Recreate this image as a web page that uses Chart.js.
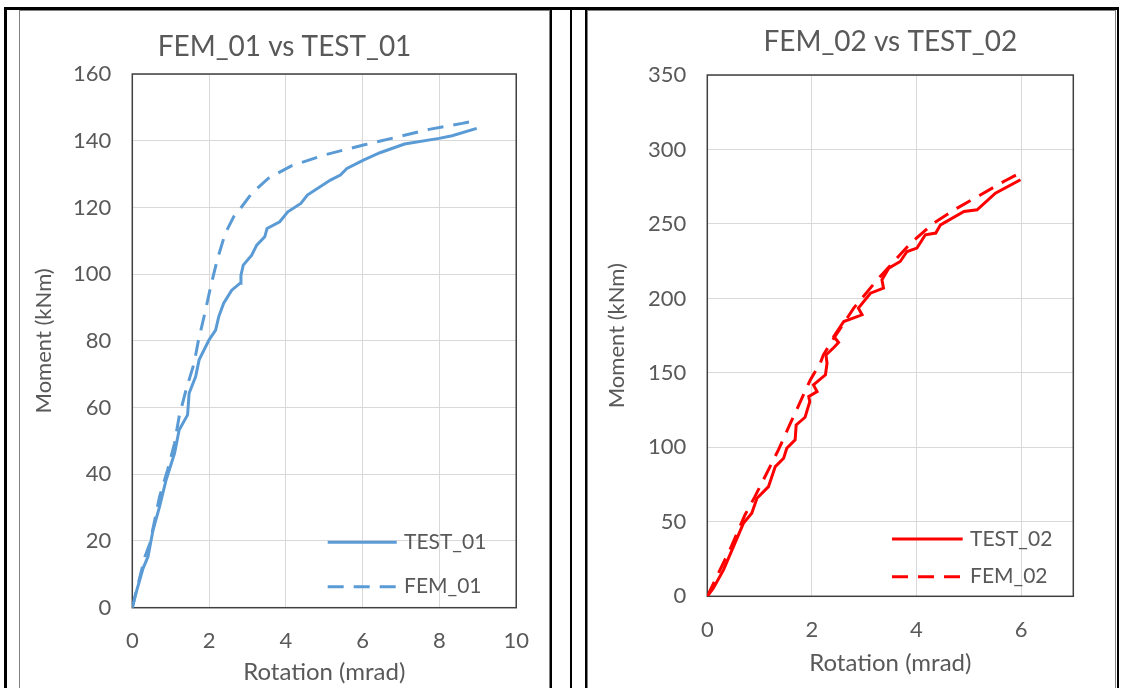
<!DOCTYPE html>
<html lang="en">
<head>
<meta charset="UTF-8">
<title>FEM vs TEST</title>
<style>
    body {
        margin: 0;
        background: #fff;
        width: 1132px;
        height: 688px;
        overflow: hidden;
        position: relative;
    }
    .rule { position: absolute; background: #000; }
    .frame { position: absolute; border: 1px solid #808080; border-bottom: none; }
    canvas { position: absolute; }
</style>
</head>
<body>
<!-- table lines round the two charts -->
<div class="rule" style="left:4px;top:7px;width:1115px;height:3px"></div>
<div class="rule" style="left:4px;top:7px;width:3px;height:681px"></div>
<div class="frame" style="left:19px;top:10px;width:529px;height:690px"></div>
<div class="rule" style="left:550px;top:7px;width:2px;height:681px"></div>
<div class="rule" style="left:570px;top:7px;width:2px;height:681px"></div>
<div class="rule" style="left:585px;top:7px;width:2px;height:681px"></div>
<div class="frame" style="left:587px;top:10px;width:527px;height:690px"></div>
<div class="rule" style="left:1117px;top:7px;width:2px;height:681px"></div>

<canvas id="chart1" width="529" height="677" style="left:20px;top:11px"></canvas>
<canvas id="chart2" width="527" height="677" style="left:588px;top:11px"></canvas>

<script src="https://cdn.jsdelivr.net/npm/chart.js"></script>
<script>
    // --- chart 1 data (rotation in mrad, moment in kNm) ---
    const test01Rot = [0, 0.07, 0.28, 0.41, 0.54, 0.71, 0.88, 1.10, 1.22, 1.44, 1.48, 1.65, 1.74, 2.00, 2.17, 2.25, 2.38, 2.59, 2.81, 2.83, 2.89, 3.11, 3.24, 3.45, 3.51, 3.84, 4.05, 4.39, 4.56, 5.16, 5.42, 5.59, 6.02, 6.45, 7.09, 7.99, 8.33, 8.97];
    const test01Mom = [0, 3.3, 11.8, 15.3, 23.3, 30.3, 38.3, 46.3, 53.3, 57.8, 64.3, 69.3, 74.3, 80.3, 83.2, 87.2, 91.3, 95.2, 97.3, 99.7, 102.7, 105.7, 108.7, 111.2, 113.7, 115.7, 118.7, 121.2, 123.7, 128.2, 129.7, 131.7, 134.2, 136.4, 139.0, 140.7, 141.5, 143.7];
    const fem01Rot = [0, 0.33, 0.46, 0.71, 0.92, 1.10, 1.22, 1.40, 1.61, 1.72, 1.89, 2.04, 2.21, 2.42, 2.64, 2.85, 3.11, 3.54, 4.13, 4.99, 6.02, 6.87, 7.73, 8.59, 9.01];
    const fem01Mom = [0, 15.3, 19.3, 33.3, 41.3, 49.3, 57.3, 65.3, 73.3, 80.0, 88.3, 96.2, 104.2, 112.2, 117.2, 120.2, 124.2, 128.7, 132.4, 135.7, 138.7, 141.0, 143.4, 145.2, 146.2];

    // --- chart 2 data ---
    const test02Rot = [0, 0.115, 0.31, 0.50, 0.69, 0.85, 0.95, 1.17, 1.30, 1.46, 1.52, 1.68, 1.70, 1.87, 1.96, 1.94, 2.10, 2.03, 2.26, 2.29, 2.27, 2.42, 2.51, 2.42, 2.61, 2.96, 2.89, 3.12, 3.37, 3.34, 3.47, 3.69, 3.82, 4.01, 4.17, 4.37, 4.46, 4.91, 5.16, 5.51, 5.99];
    const test02Mom = [0, 5.4, 17.7, 33.3, 49.0, 55.8, 65.8, 73.6, 87.1, 92.7, 99.4, 105.0, 115.1, 120.2, 130.7, 134.1, 137.4, 141.9, 148.7, 156.5, 162.0, 167.0, 170.4, 174.4, 184.5, 189.0, 193.5, 203.5, 206.9, 212.5, 220.3, 224.8, 231.5, 233.8, 242.7, 243.9, 249.4, 258.4, 259.5, 270.7, 279.7];
    const fem02Rot = [0, 0.21, 0.43, 0.72, 0.91, 1.20, 1.36, 1.59, 1.78, 1.97, 2.16, 2.22, 2.42, 2.80, 3.25, 3.89, 4.33, 4.78, 5.23, 5.67, 6.06];
    const fem02Mom = [0, 15.4, 31.1, 54.6, 66.9, 87.1, 98.3, 116.2, 130.7, 145.3, 156.5, 162.1, 173.3, 193.5, 212.5, 237.1, 250.6, 260.6, 269.6, 278.5, 285.7];

    const textColor = '#595959';
    const fontFamily = 'Lato, "Noto Sans", sans-serif';

    function toPoints(xs, ys) {
        return xs.map((x, i) => ({ x: x, y: ys[i] }));
    }

    // box round the plot area, like the excel plot border
    const plotBorder = {
        id: 'plotBorder',
        beforeDatasetsDraw(chart) {
            const a = chart.chartArea;
            const ctx = chart.ctx;
            ctx.save();
            ctx.strokeStyle = '#404040';
            ctx.lineWidth = 1.5;
            ctx.strokeRect(a.left, a.top, a.right - a.left, a.bottom - a.top);
            ctx.restore();
        }
    };

    // legend drawn inside the plot area (bottom right)
    const insideLegend = {
        id: 'insideLegend',
        afterDraw(chart, args, opts) {
            const ctx = chart.ctx;
            ctx.save();
            chart.data.datasets.forEach((ds, i) => {
                const y = opts.y[i];
                ctx.beginPath();
                ctx.strokeStyle = ds.borderColor;
                ctx.lineWidth = ds.borderWidth;
                ctx.setLineDash(ds.borderDash || []);
                ctx.moveTo(opts.x, y);
                ctx.lineTo(opts.x + opts.lineLength, y);
                ctx.stroke();
                ctx.setLineDash([]);
                ctx.fillStyle = textColor;
                ctx.font = opts.fontSize + 'px ' + fontFamily;
                ctx.textBaseline = 'middle';
                ctx.textAlign = 'left';
                ctx.fillText(ds.label, opts.textX, y);
            });
            ctx.restore();
        }
    };

    function makeChart(id, cfg) {
        const ctx = document.getElementById(id).getContext('2d');
        return new Chart(ctx, {
            type: 'scatter',
            data: {
                datasets: [{
                    label: cfg.labels[0],
                    data: cfg.solid,
                    showLine: true,
                    borderColor: cfg.color,
                    borderWidth: 3,
                    pointRadius: 0,
                    tension: 0
                }, {
                    label: cfg.labels[1],
                    data: cfg.dashed,
                    showLine: true,
                    borderColor: cfg.color,
                    borderWidth: 3,
                    borderDash: [16, 10],
                    pointRadius: 0,
                    tension: 0
                }]
            },
            options: {
                responsive: false,
                animation: false,
                layout: { padding: 0 },
                plugins: {
                    legend: { display: false },
                    tooltip: { enabled: false },
                    title: {
                        display: true,
                        text: cfg.title,
                        fullSize: cfg.titleFull,
                        color: textColor,
                        font: { family: fontFamily, size: 28, weight: 'normal' },
                        padding: cfg.titlePad
                    },
                    insideLegend: cfg.legend
                },
                scales: {
                    x: {
                        type: 'linear',
                        min: 0,
                        max: cfg.xMax,
                        grid: { color: '#d9d9d9', drawTicks: false },
                        border: { display: false },
                        ticks: {
                            stepSize: 2,
                            padding: cfg.xTickPad,
                            color: textColor,
                            font: { family: fontFamily, size: 22 },
                            callback: v => (v % 2 === 0 ? v : null)
                        },
                        title: {
                            display: true,
                            text: 'Rotation (mrad)',
                            color: textColor,
                            font: { family: fontFamily, size: 24 },
                            padding: { top: 0, bottom: cfg.xTitlePad }
                        },
                        afterFit: s => { s.height = cfg.xHeight; }
                    },
                    y: {
                        min: 0,
                        max: cfg.yMax,
                        grid: { color: '#d9d9d9', drawTicks: false },
                        border: { display: false },
                        ticks: {
                            stepSize: cfg.yStep,
                            padding: 21,
                            color: textColor,
                            font: { family: fontFamily, size: 22 }
                        },
                        title: {
                            display: true,
                            text: 'Moment (kNm)',
                            color: textColor,
                            font: { family: fontFamily, size: 22 },
                            padding: { top: cfg.yTitlePad, bottom: 0 }
                        },
                        afterFit: s => { s.width = cfg.yWidth; }
                    },
                    // empty right-hand axis: only keeps room right of the plot
                    yRight: {
                        position: 'right',
                        min: 0,
                        max: 1,
                        grid: { display: false },
                        border: { display: false },
                        ticks: { display: false },
                        afterFit: s => { s.width = cfg.padRight; }
                    }
                }
            },
            plugins: [plotBorder, insideLegend]
        });
    }

    makeChart('chart1', {
        title: 'FEM_01 vs TEST_01',
        titleFull: true,
        titlePad: { top: 19.2, bottom: 10.2 },
        labels: ['TEST_01', 'FEM_01'],
        color: '#5b9bd5',
        solid: toPoints(test01Rot, test01Mom),
        dashed: toPoints(fem01Rot, fem01Mom),
        xMax: 10, yMax: 160, yStep: 20,
        padRight: 27.3,
        xHeight: 80.3, xTickPad: 20, xTitlePad: 1.6,
        yWidth: 112.3, yTitlePad: 10.7,
        legend: { x: 307.7, lineLength: 69, textX: 384, y: [531.3, 575.7], fontSize: 21 }
    });

    makeChart('chart2', {
        title: 'FEM_02 vs TEST_02',
        titleFull: false,
        titlePad: { top: 14.2, bottom: 16.2 },
        labels: ['TEST_02', 'FEM_02'],
        color: '#ff0000',
        solid: toPoints(test02Rot, test02Mom),
        dashed: toPoints(fem02Rot, fem02Mom),
        xMax: 7, yMax: 350, yStep: 50,
        padRight: 41.7,
        xHeight: 91.7, xTickPad: 20, xTitlePad: 10.6,
        yWidth: 119.3, yTitlePad: 16,
        legend: { x: 304, lineLength: 70.7, textX: 382, y: [528, 565.7], fontSize: 21 }
    });
</script>
</body>
</html>
